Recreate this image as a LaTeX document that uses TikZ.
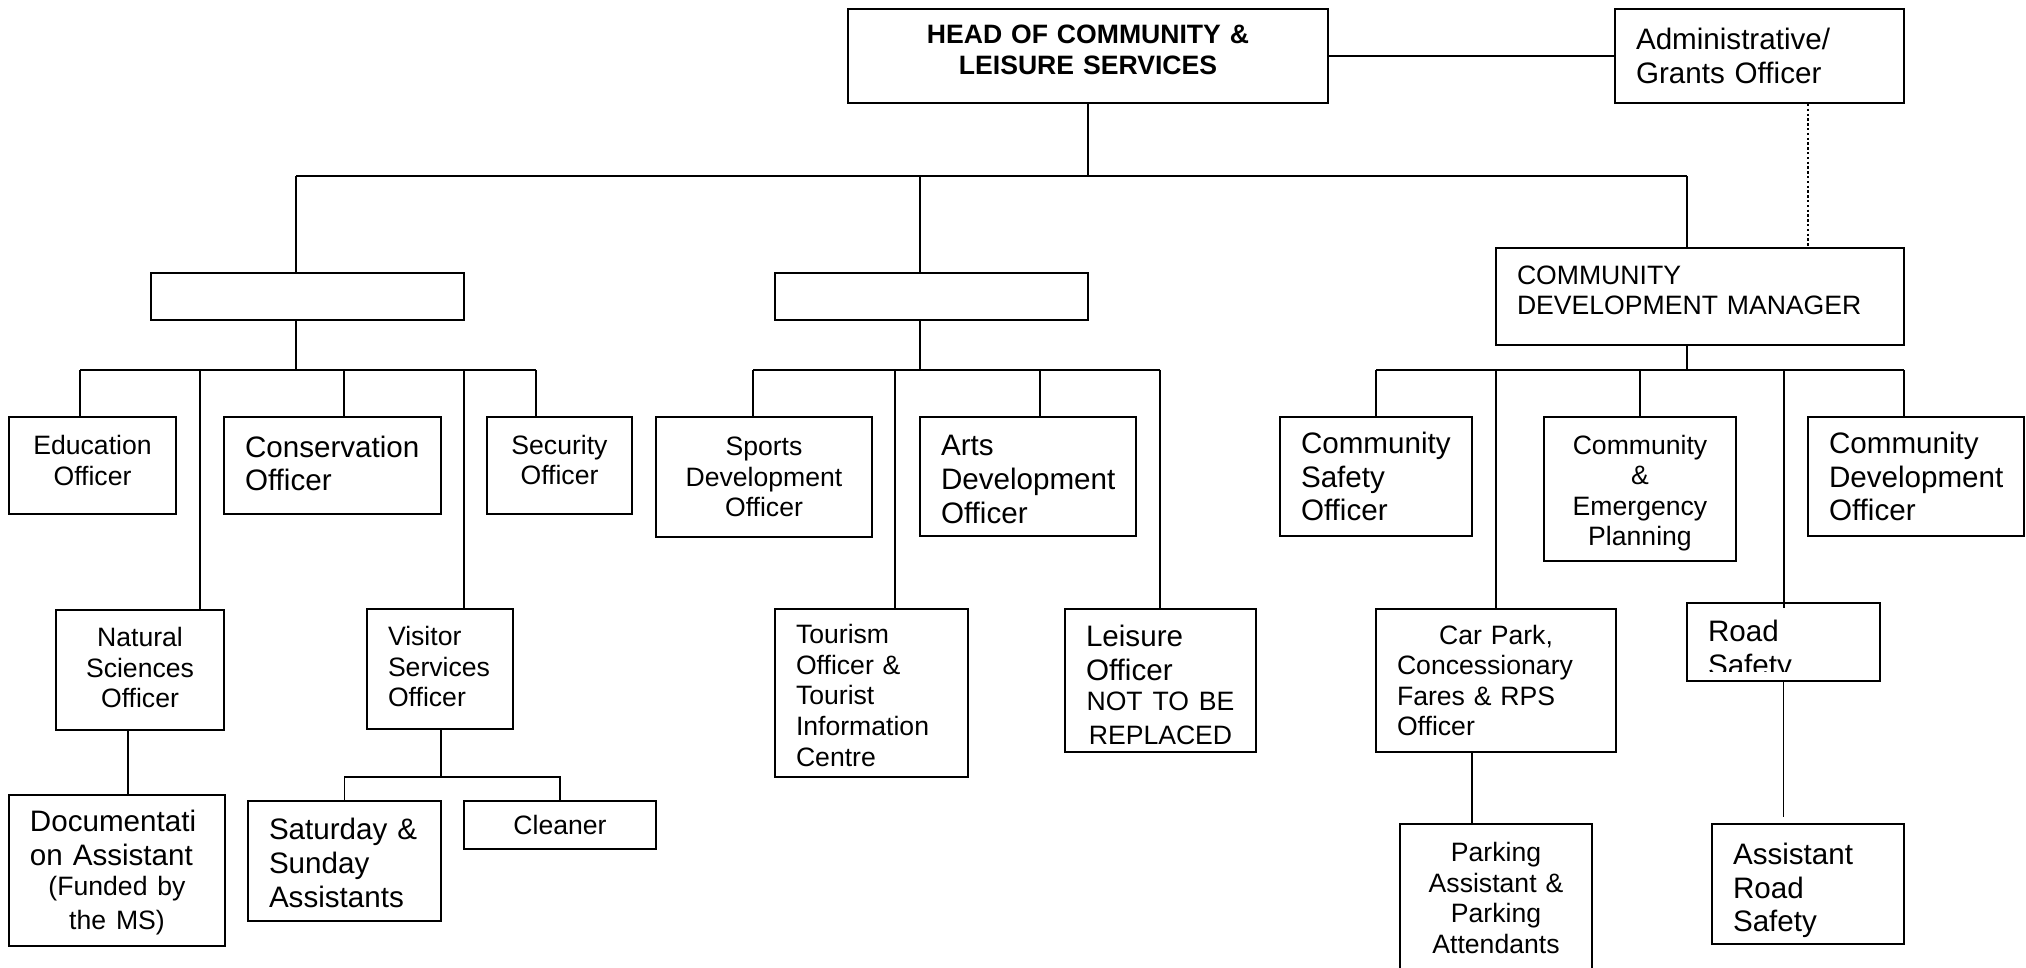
\documentclass[tikz,border=0pt]{standalone}
\usepackage{fontspec}
\setmainfont{Liberation Sans}
\hyphenpenalty=10000
\newcommand\txtS{\fontsize{13.3}{15.3}\selectfont}
\newcommand\txtL{\fontsize{14.8}{16.9}\selectfont}
\newcommand\padT[1]{\rule{0pt}{#1}}
\newcommand\padB[1]{\par\kern#1}
\tikzset{
  box/.style={draw, line width=1.1pt, inner xsep=10.5pt, inner ysep=0pt, font=\txtS},
  lbox/.style={box, align=left},
  cbox/.style={box, align=center},
  link/.style={line width=0.8pt},
  dotlink/.style={line width=0.6pt, dash pattern=on 1.2pt off 1.2pt}
}
\begin{document}
\begin{tikzpicture}[x=0.5pt, y=-0.5pt]
\useasboundingbox (0,0) rectangle (2026,968);
% top level
\node[cbox, font=\txtS\bfseries, text width=219pt, minimum height=47pt] (head) at (1088,56) {HEAD OF COMMUNITY \&\\LEISURE SERVICES\padB{6pt}};
\node[lbox, font=\txtL, text width=123.5pt, minimum height=47pt] (admin) at (1759.5,56) {Administrative/\\Grants Officer};
\node[box, minimum width=156.5pt, minimum height=23.5pt] (L1) at (307.5,296.5) {};
\node[box, minimum width=156.5pt, minimum height=23.5pt] (M1) at (931.5,296.5) {};
\node[lbox, text width=183pt, minimum height=48.5pt] (cdm) at (1700,296.5) {COMMUNITY\\DEVELOPMENT MANAGER\padB{6pt}};
% left group
\node[cbox, text width=62.5pt, minimum height=48.5pt] (edu) at (92.5,465.5) {Education\\Officer\padB{5pt}};
\node[lbox, font=\txtL, text width=87.5pt, minimum height=48.5pt] (cons) at (332.5,465.5) {Conservation\\Officer\padB{2pt}};
\node[cbox, text width=51.5pt, minimum height=48.5pt] (sec) at (559.5,465.5) {Security\\Officer\padB{5.5pt}};
\node[cbox, text width=63pt, minimum height=60pt] (natsci) at (140,670) {Natural\\Sciences\\Officer\padB{2.5pt}};
\node[lbox, text width=52pt, minimum height=60pt] (visit) at (440,669) {Visitor\\Services\\Officer\padB{2.5pt}};
\node[lbox, font=\txtL, text width=87pt, minimum height=75.5pt] (doc) at (117,870.5) {\padT{12.6pt}Documentati\\on Assistant\par\txtS\makebox[\linewidth]{(Funded by}\\\makebox[\linewidth]{the MS)}};
\node[lbox, font=\txtL, text width=75.5pt, minimum height=60pt] (satsun) at (344.5,861) {\padT{12.4pt}Saturday \&\\Sunday\\Assistants};
\node[cbox, text width=75pt, minimum height=24pt] (cleaner) at (560,825) {Cleaner};
% middle group
\node[cbox, text width=87pt, minimum height=60pt] (sports) at (764,477) {Sports\\Development\\Officer};
\node[lbox, font=\txtL, text width=87pt, minimum height=59.5pt] (arts) at (1028,476.5) {\padT{13.2pt}Arts\\Development\\Officer};
\node[lbox, text width=75.5pt, minimum height=84pt] (tourism) at (871.5,693) {\padT{12.1pt}Tourism\\Officer \&\\Tourist\\Information\\Centre};
\node[lbox, font=\txtL, text width=74.5pt, minimum height=71.5pt] (leisure) at (1160.5,680.5) {\padT{15.1pt}Leisure\\Officer\par\txtS\makebox[\linewidth]{NOT TO BE}\\\makebox[\linewidth]{REPLACED}};
% right group
\node[lbox, font=\txtL, text width=75pt, minimum height=59.5pt] (csafe) at (1376,476.5) {Community\\Safety\\Officer};
\node[cbox, text width=75pt, minimum height=72pt] (cemerg) at (1640,489) {\padT{13.7pt}Community\\\&\\Emergency\\Planning};
\node[lbox, font=\txtL, text width=87pt, minimum height=59.5pt] (cdev) at (1916,476.5) {Community\\Development\\Officer};
\node[lbox, text width=99pt, minimum height=71.5pt] (carpark) at (1496,680.5) {\makebox[\linewidth]{Car Park,}\\Concessionary\\Fares \& RPS\\Officer};
\node[box, minimum width=96.5pt, minimum height=39pt] (road) at (1783.5,642) {};
\begin{scope}
\clip (1687,603) rectangle (1880,671);
\node[lbox, draw=none, font=\txtL, text width=75.5pt] (roadtxt) at (1783.5,651) {Road\\Safety};
\end{scope}
\node[cbox, text width=75pt, minimum height=74pt] (parking) at (1496,898) {Parking\\Assistant \&\\Parking\\Attendants};
\node[lbox, font=\txtL, text width=75pt, minimum height=60pt] (assist) at (1808,884) {\padT{17.1pt}Assistant\\Road\\Safety};

% connectors
\coordinate (tL) at (296,176);
\coordinate (tM) at (920,176);
\coordinate (tR) at (1687,176);
\coordinate (tD) at (1808,176);
\draw[link] (head.east) -- (admin.west);
\draw[link] (head.south) -- (head.south |- tL);
\draw[link] (tL) -- (tR);
\draw[link] (tL) -- (tL |- L1.north);
\draw[link] (tM) -- (tM |- M1.north);
\draw[link] (tR) -- (tR |- cdm.north);
\draw[dotlink] (admin.south -| tD) -- (tD |- cdm.north);

\foreach \x/\n in {80/edu, 200/natsci, 344/cons, 464/visit, 536/sec}
  {\coordinate (d-\n) at (\x,370);
   \draw[link] (d-\n) -- (d-\n |- \n.north);}
\draw[link] (L1.south -| tL) -- (tL |- d-edu);
\draw[link] (d-edu) -- (d-sec);

\foreach \x/\n in {753/sports, 895/tourism, 1040/arts, 1160/leisure}
  {\coordinate (d-\n) at (\x,370);
   \draw[link] (d-\n) -- (d-\n |- \n.north);}
\draw[link] (M1.south -| tM) -- (tM |- d-sports);
\draw[link] (d-sports) -- (d-leisure);

\foreach \x/\n in {1376/csafe, 1496/carpark, 1640/cemerg, 1904/cdev}
  {\coordinate (d-\n) at (\x,370);
   \draw[link] (d-\n) -- (d-\n |- \n.north);}
\coordinate (d-road) at (1784,370);
\draw[link] (d-road) -- ([yshift=-3pt]d-road |- road.north);
\draw[link] (cdm.south -| tR) -- (tR |- d-csafe);
\draw[link] (d-csafe) -- (d-cdev);

\coordinate (nd) at (128,0);
\draw[link] (natsci.south -| nd) -- (doc.north -| nd);
\coordinate (vd) at (441,777);
\draw[link] (visit.south -| vd) -- (vd);
\draw[link] (satsun.north) |- (vd) -| (cleaner.north);
\coordinate (cd) at (1472,0);
\draw[link] (carpark.south -| cd) -- (parking.north -| cd);
\draw[link] (road.south) -- ([yshift=3pt]road.south |- assist.north);
\end{tikzpicture}
\end{document}
